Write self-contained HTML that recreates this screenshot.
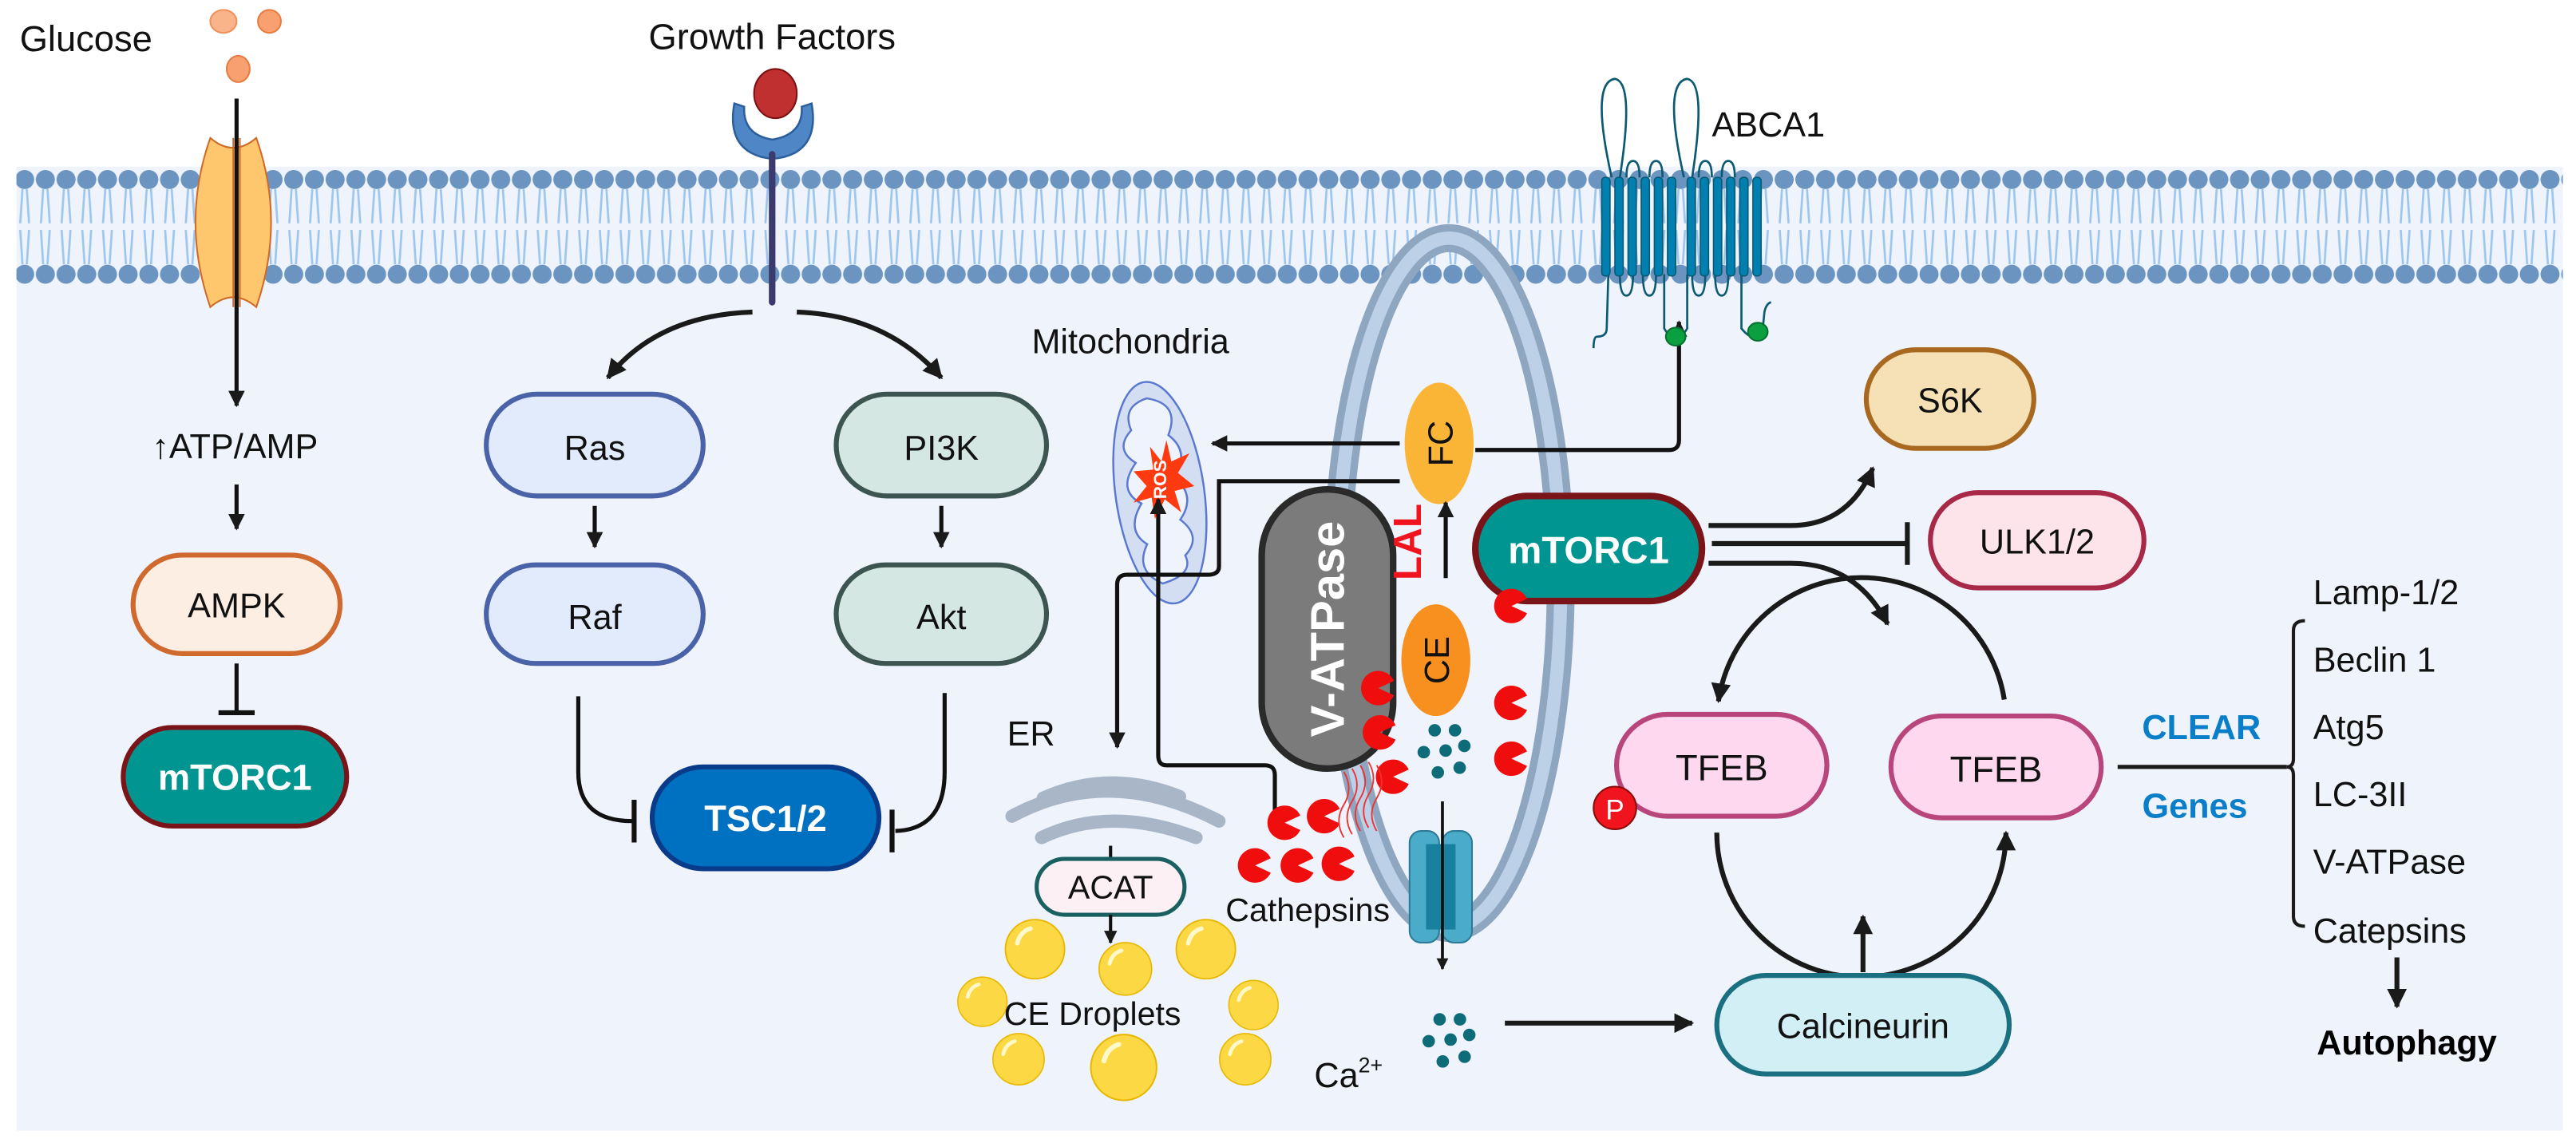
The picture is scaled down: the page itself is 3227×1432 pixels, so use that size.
<!DOCTYPE html>
<html><head><meta charset="utf-8"><style>
html,body{margin:0;padding:0;background:#fff}
svg{display:block}
text{font-family:"Liberation Sans",sans-serif}
</style></head><body>
<svg width="3227" height="1432" viewBox="0 0 1568 696" preserveAspectRatio="none" xmlns="http://www.w3.org/2000/svg">
<defs>
<pattern id="heads" x="8.7" y="0" width="12.6" height="696" patternUnits="userSpaceOnUse">
<circle cx="6.3" cy="109.3" r="5.8" fill="#6b95c0"/>
<circle cx="6.3" cy="167" r="5.8" fill="#6b95c0"/>
<path d="M5,115 Q4.3,125 3.6,136 M7.6,115 Q8.3,125 9,136 M3.6,140 Q4.3,151 5,161 M9,140 Q8.3,151 7.6,161" stroke="#9cc6ee" stroke-width="1.3" fill="none"/>
</pattern>
<marker id="ah" viewBox="0 0 10 10" refX="9" refY="5" markerWidth="4" markerHeight="4.5" orient="auto" markerUnits="strokeWidth">
<path d="M0,0 L10,5 L0,10 Z" fill="#1a1a1a"/></marker>
<g id="pac"><path d="M0,0 L9.5,-4.4 A10.5,10.5 0 1,0 9.5,4.4 Z" fill="#f00d0d"/></g>
<g id="drop"><circle r="20" fill="#fcd845" stroke="#e8b800" stroke-width="1"/><path d="M-12,-4 Q-10,-12 -3,-14" stroke="#fff8c8" stroke-width="3" fill="none" stroke-linecap="round"/></g>
<g id="ca" fill="#0e6b78"><circle cx="-6" cy="-14" r="4"/><circle cx="7" cy="-14" r="4"/><circle cx="-13" cy="0" r="4"/><circle cx="1" cy="-1" r="4"/><circle cx="13" cy="-4" r="4"/><circle cx="-4" cy="13" r="4"/><circle cx="10" cy="10" r="4"/></g>
</defs>

<rect x="0" y="0" width="1568" height="696" fill="#fff"/>
<rect x="10" y="101.5" width="1550" height="587" fill="#eef3fc"/>
<rect x="10" y="101.5" width="1550" height="75" fill="url(#heads)"/>

<text x="12" y="31" font-size="22" fill="#111">Glucose</text>
<ellipse cx="136" cy="13" rx="8" ry="7" fill="#f9b48a" stroke="#f0905a"/>
<ellipse cx="164" cy="13" rx="7" ry="7" fill="#f9a070" stroke="#e87c40"/>
<ellipse cx="145" cy="42" rx="7" ry="8" fill="#f9a070" stroke="#e87c40"/>
<path d="M128,84 Q142,96 156,84 Q174,135 156,187 Q142,175 128,187 Q110,135 128,84Z" fill="#fec76d" stroke="#d06a28" stroke-width="1"/>
<line x1="142" y1="84" x2="142" y2="187" stroke="#d06a28"/>
<line x1="146" y1="84" x2="146" y2="187" stroke="#d06a28"/>
<line x1="144" y1="60" x2="144" y2="247" stroke="#111" stroke-width="2.5" marker-end="url(#ah)"/>
<text x="143" y="279" font-size="21" text-anchor="middle" fill="#111">↑ATP/AMP</text>
<line x1="144" y1="295" x2="144" y2="322" stroke="#111" stroke-width="2.5" marker-end="url(#ah)"/>
<rect x="81" y="338" width="126" height="60" rx="30" fill="#fdeee3" stroke="#d0692e" stroke-width="3"/>
<text x="144" y="376" font-size="21" text-anchor="middle" fill="#111">AMPK</text>
<line x1="144" y1="404" x2="144" y2="434" stroke="#111" stroke-width="2.5"/>
<line x1="133" y1="434" x2="155" y2="434" stroke="#111" stroke-width="3"/>
<rect x="75" y="443" width="136" height="60" rx="30" fill="#009590" stroke="#7a1418" stroke-width="3"/>
<text x="143" y="481" font-size="22" font-weight="bold" text-anchor="middle" fill="#fff">mTORC1</text>

<text x="470" y="30" font-size="22" text-anchor="middle" fill="#111">Growth Factors</text>
<path d="M447,63 Q443,85 457,93 Q470,100 484,93 Q498,85 494,63 L488,65 Q489,82 470,85 Q452,82 453,65Z" fill="#4f86c6" stroke="#2b5e9c" stroke-width="1.2"/>
<ellipse cx="472" cy="57" rx="13" ry="15" fill="#c03030" stroke="#7a1010"/>
<line x1="470" y1="94" x2="470" y2="184" stroke="#3b3a6e" stroke-width="4" stroke-linecap="round"/>
<path d="M458,190 Q400,192 370,230" stroke="#1a1a1a" stroke-width="3" fill="none" marker-end="url(#ah)"/>
<path d="M485,190 Q540,192 573,230" stroke="#1a1a1a" stroke-width="3" fill="none" marker-end="url(#ah)"/>
<rect x="296" y="240" width="132" height="62" rx="31" fill="#e2ebfb" stroke="#4a62a8" stroke-width="3"/>
<text x="362" y="280" font-size="21" text-anchor="middle" fill="#111">Ras</text>
<line x1="362" y1="308" x2="362" y2="333" stroke="#111" stroke-width="2.5" marker-end="url(#ah)"/>
<rect x="296" y="344" width="132" height="60" rx="30" fill="#e2ebfb" stroke="#4a62a8" stroke-width="3"/>
<text x="362" y="383" font-size="21" text-anchor="middle" fill="#111">Raf</text>
<rect x="509" y="240" width="128" height="62" rx="31" fill="#d5e7e3" stroke="#3d5550" stroke-width="3"/>
<text x="573" y="280" font-size="21" text-anchor="middle" fill="#111">PI3K</text>
<line x1="573" y1="308" x2="573" y2="333" stroke="#111" stroke-width="2.5" marker-end="url(#ah)"/>
<rect x="509" y="344" width="128" height="60" rx="30" fill="#d5e7e3" stroke="#3d5550" stroke-width="3"/>
<text x="573" y="383" font-size="21" text-anchor="middle" fill="#111">Akt</text>
<path d="M352,424 L352,470 Q352,500 385,500" stroke="#111" stroke-width="2.5" fill="none"/>
<line x1="386" y1="487" x2="386" y2="513" stroke="#111" stroke-width="3"/>
<path d="M575,422 L575,470 Q575,505 545,506" stroke="#111" stroke-width="2.5" fill="none"/>
<line x1="543" y1="493" x2="543" y2="519" stroke="#111" stroke-width="3"/>
<rect x="397" y="467" width="138" height="62" rx="31" fill="#0070c0" stroke="#0a3a8a" stroke-width="3"/>
<text x="466" y="506" font-size="22" font-weight="bold" text-anchor="middle" fill="#fff">TSC1/2</text>

<text x="628" y="215" font-size="21" fill="#111">Mitochondria</text>
<g transform="rotate(-8 706 300)">
<ellipse cx="706" cy="300" rx="27" ry="68" fill="#d3def3" stroke="#5a78d0" stroke-width="1.2"/>
<path d="M706,242 Q690,245 694,260 Q682,270 694,280 Q680,295 694,305 Q682,320 694,330 Q684,345 700,355 Q720,352 716,340 Q728,330 716,318 Q728,305 716,292 Q728,278 716,266 Q726,248 706,242Z" fill="#eef3fc" stroke="#5a78d0" stroke-width="1.2"/>
</g>
<polygon points="710,268 713,281 724,276 717,288 727,296 715,299 719,312 709,304 703,316 701,303 690,306 698,296 690,287 702,286 700,272 707,281" fill="#ff3a10"/>
<text x="710" y="292" font-size="11" font-weight="bold" fill="#fff" text-anchor="middle" transform="rotate(-90 710 292)">ROS</text>

<ellipse cx="882" cy="355" rx="68" ry="210" fill="none" stroke="#8fa6c0" stroke-width="17"/>
<ellipse cx="882" cy="355" rx="68" ry="210" fill="none" stroke="#bcd0e8" stroke-width="8"/>

<rect x="768" y="298" width="80" height="170" rx="40" fill="#7b7b7b" stroke="#2a2a2a" stroke-width="4"/>
<text x="808" y="383" font-size="29" font-weight="bold" fill="#fff" text-anchor="middle" transform="rotate(-90 808 383)" dy="10">V-ATPase</text>

<ellipse cx="876" cy="270" rx="21" ry="37" fill="#fbb536"/>
<text x="876" y="270" font-size="21" fill="#111" text-anchor="middle" dy="8" transform="rotate(-90 876 270)">FC</text>
<line x1="880" y1="352" x2="880" y2="306" stroke="#111" stroke-width="2.5" marker-end="url(#ah)"/>
<text x="857" y="330" font-size="24" font-weight="bold" fill="#f0141e" text-anchor="middle" dy="8" transform="rotate(-90 857 330)">LAL</text>
<ellipse cx="874" cy="402" rx="21" ry="34" fill="#f7901e"/>
<text x="874" y="402" font-size="21" fill="#111" text-anchor="middle" dy="8" transform="rotate(-90 874 402)">CE</text>

<line x1="852" y1="270" x2="738" y2="270" stroke="#111" stroke-width="2.5" marker-end="url(#ah)"/>
<path d="M852,293 L742,293 L742,345 Q742,350 735,350 L686,350 Q680,350 680,356 L680,455" stroke="#111" stroke-width="2.5" fill="none" marker-end="url(#ah)"/>
<path d="M898,274 L1016,274 Q1022,274 1022,268 L1022,196" stroke="#111" stroke-width="2.5" fill="none" marker-end="url(#ah)"/>
<path d="M776,496 L776,472 Q776,466 770,466 L710,466 Q705,466 705,460 L705,304" stroke="#111" stroke-width="2.5" fill="none" marker-end="url(#ah)"/>

<text x="1042" y="83" font-size="21" fill="#111">ABCA1</text>
<g stroke="#0b5a72" stroke-width="1.3" fill="none">
<path d="M981,108 Q968,50 983,48 Q995,50 986,108"/>
<path d="M1025,108 Q1012,50 1027,48 Q1039,50 1030,108"/>
<path d="M990,108 Q990,98 994,98 Q998,98 998,108 M1004,108 Q1004,98 1008,98 Q1012,98 1012,108"/>
<path d="M1034,108 Q1034,98 1038,98 Q1042,98 1042,108 M1048,108 Q1048,98 1052,98 Q1056,98 1056,108"/>
<path d="M986,167 Q986,180 990,180 Q994,180 994,167 M1000,167 Q1000,180 1004,180 Q1008,180 1008,167"/>
<path d="M1030,167 Q1030,180 1034,180 Q1038,180 1038,167 M1044,167 Q1044,180 1048,180 Q1052,180 1052,167"/>
<path d="M979,167 L978,200 Q978,205 972,205 Q970,205 970,212"/>
<path d="M1013,167 L1013,200 Q1020,212 1027,200 L1027,167"/>
<path d="M1060,167 L1060,200 Q1068,210 1073,200 L1074,190 Q1075,185 1078,184"/>
</g>
<g fill="#0080b0" stroke="#0b5a72" stroke-width="0.8">
<rect x="975" y="108" width="5" height="60" rx="2"/><rect x="983" y="108" width="5" height="60" rx="2"/><rect x="991" y="108" width="5" height="60" rx="2"/><rect x="999" y="108" width="5" height="60" rx="2"/><rect x="1007" y="108" width="5" height="60" rx="2"/><rect x="1015" y="108" width="5" height="60" rx="2"/>
<rect x="1027" y="108" width="5" height="60" rx="2"/><rect x="1035" y="108" width="5" height="60" rx="2"/><rect x="1043" y="108" width="5" height="60" rx="2"/><rect x="1051" y="108" width="5" height="60" rx="2"/><rect x="1059" y="108" width="5" height="60" rx="2"/><rect x="1067" y="108" width="5" height="60" rx="2"/>
</g>
<ellipse cx="1020" cy="205" rx="6" ry="5.5" fill="#0aa040" stroke="#087030"/>
<ellipse cx="1070" cy="202" rx="6" ry="5.5" fill="#0aa040" stroke="#087030"/>

<rect x="898" y="302" width="138" height="64" rx="32" fill="#009590" stroke="#7a1418" stroke-width="4"/>
<text x="967" y="343" font-size="23" font-weight="bold" text-anchor="middle" fill="#fff">mTORC1</text>
<path d="M1040,320 L1090,320 Q1125,320 1140,285" stroke="#1a1a1a" stroke-width="3" fill="none" marker-end="url(#ah)"/>
<line x1="1042" y1="331" x2="1160" y2="331" stroke="#1a1a1a" stroke-width="3"/>
<line x1="1161" y1="318" x2="1161" y2="344" stroke="#1a1a1a" stroke-width="3"/>
<path d="M1040,343 L1090,343 Q1130,343 1149,380" stroke="#1a1a1a" stroke-width="3" fill="none" marker-end="url(#ah)"/>
<rect x="1136" y="213" width="102" height="60" rx="30" fill="#f5e1b5" stroke="#a8681f" stroke-width="3"/>
<text x="1187" y="251" font-size="21" text-anchor="middle" fill="#111">S6K</text>
<rect x="1175" y="300" width="130" height="58" rx="29" fill="#fde4ea" stroke="#a82848" stroke-width="3"/>
<text x="1240" y="337" font-size="21" text-anchor="middle" fill="#111">ULK1/2</text>

<path d="M1220,426 A88,88 0 0,0 1046,427" stroke="#1a1a1a" stroke-width="3" fill="none" marker-end="url(#ah)"/>
<path d="M1045,507 A88,88 0 0,0 1221,507" stroke="#1a1a1a" stroke-width="3" fill="none" marker-end="url(#ah)"/>
<rect x="984" y="435" width="128" height="62" rx="31" fill="#fdd8ee" stroke="#b8457c" stroke-width="3"/>
<text x="1048" y="475" font-size="22" text-anchor="middle" fill="#111">TFEB</text>
<circle cx="983" cy="492" r="13" fill="#f0141e" stroke="#8a0a0a"/>
<text x="983" y="499" font-size="17" text-anchor="middle" fill="#fff">P</text>
<rect x="1151" y="436" width="128" height="62" rx="31" fill="#fdd8ee" stroke="#b8457c" stroke-width="3"/>
<text x="1215" y="476" font-size="22" text-anchor="middle" fill="#111">TFEB</text>

<line x1="1134" y1="592" x2="1134" y2="558" stroke="#1a1a1a" stroke-width="3" marker-end="url(#ah)"/>
<rect x="1045" y="594" width="178" height="60" rx="30" fill="#d2eff6" stroke="#1a7080" stroke-width="3"/>
<text x="1134" y="632" font-size="21" text-anchor="middle" fill="#111">Calcineurin</text>

<text x="1340" y="450" font-size="21" font-weight="bold" text-anchor="middle" fill="#0a7ec8">CLEAR</text>
<text x="1336" y="498" font-size="21" font-weight="bold" text-anchor="middle" fill="#0a7ec8">Genes</text>
<line x1="1289" y1="467" x2="1392" y2="467" stroke="#1a1a1a" stroke-width="2.5"/>
<path d="M1403,378 Q1396,378 1396,384 L1396,462 Q1396,467 1392,467 Q1396,467 1396,472 L1396,558 Q1396,564 1403,564" stroke="#1a1a1a" stroke-width="2" fill="none"/>
<g font-size="21" fill="#111">
<text x="1408" y="368">Lamp-1/2</text>
<text x="1408" y="409">Beclin 1</text>
<text x="1408" y="450">Atg5</text>
<text x="1408" y="491">LC-3II</text>
<text x="1408" y="532">V-ATPase</text>
<text x="1408" y="574">Catepsins</text>
</g>
<line x1="1459" y1="583" x2="1459" y2="613" stroke="#1a1a1a" stroke-width="3" marker-end="url(#ah)"/>
<text x="1465" y="642" font-size="21" font-weight="bold" text-anchor="middle" fill="#000">Autophagy</text>

<text x="613" y="454" font-size="21" fill="#111">ER</text>
<g stroke="#a8b6c8" stroke-width="8" fill="none" stroke-linecap="round">
<path d="M616,497 Q675,465 742,500"/>
<path d="M635,486 Q675,468 718,485"/>
<path d="M634,510 Q676,490 728,510"/>
</g>
<line x1="676" y1="515" x2="676" y2="524" stroke="#111" stroke-width="2"/>
<rect x="631" y="523" width="90" height="34" rx="17" fill="#fdf0f5" stroke="#1a6060" stroke-width="2.5"/>
<text x="676" y="547" font-size="20" text-anchor="middle" fill="#111">ACAT</text>
<line x1="676" y1="557" x2="676" y2="574" stroke="#111" stroke-width="2" marker-end="url(#ah)"/>

<use href="#drop" transform="translate(630,578) scale(0.9)"/>
<use href="#drop" transform="translate(685,590) scale(0.8)"/>
<use href="#drop" transform="translate(734,578) scale(0.9)"/>
<use href="#drop" transform="translate(598,610) scale(0.75)"/>
<use href="#drop" transform="translate(763,612) scale(0.75)"/>
<use href="#drop" transform="translate(620,645) scale(0.78)"/>
<use href="#drop" transform="translate(684,650) scale(1)"/>
<use href="#drop" transform="translate(758,645) scale(0.78)"/>
<text x="665" y="624" font-size="20" text-anchor="middle" fill="#111">CE Droplets</text>

<use href="#pac" transform="translate(782,501)"/>
<use href="#pac" transform="translate(806,497)"/>
<use href="#pac" transform="translate(764,527)"/>
<use href="#pac" transform="translate(790,527)"/>
<use href="#pac" transform="translate(815,526)"/>
<use href="#pac" transform="translate(839,419)"/>
<use href="#pac" transform="translate(840,446)"/>
<use href="#pac" transform="translate(848,473)"/>
<use href="#pac" transform="translate(920,369)"/>
<use href="#pac" transform="translate(920,428)"/>
<use href="#pac" transform="translate(920,462)"/>
<text x="796" y="561" font-size="20" text-anchor="middle" fill="#111">Cathepsins</text>
<g stroke="#f03030" stroke-width="0.9" fill="none">
<path d="M818,470 q6,10 0,20 q-6,10 0,20"/>
<path d="M823,468 q6,10 0,20 q-6,10 0,20"/>
<path d="M828,466 q6,10 0,20 q-6,10 0,20"/>
<path d="M833,464 q6,10 0,20 q-6,10 0,20"/>
<path d="M838,466 q6,10 0,20 q-6,10 0,20"/>
</g>
<use href="#ca" transform="translate(879,458) scale(0.95)"/>

<rect x="858" y="506" width="18" height="68" rx="7" fill="#4aacc8" stroke="#2a7a98"/>
<rect x="878" y="506" width="18" height="68" rx="7" fill="#4aacc8" stroke="#2a7a98"/>
<rect x="868" y="514" width="18" height="52" fill="#1a80a0"/>
<line x1="878" y1="488" x2="878" y2="590" stroke="#111" stroke-width="1.8" marker-end="url(#ah)"/>
<text x="800" y="662" font-size="21" fill="#111">Ca<tspan font-size="13" dy="-9">2+</tspan></text>
<use href="#ca" transform="translate(882,634) scale(0.95)"/>
<line x1="916" y1="623" x2="1030" y2="623" stroke="#1a1a1a" stroke-width="3" marker-end="url(#ah)"/>
</svg>
</body></html>
